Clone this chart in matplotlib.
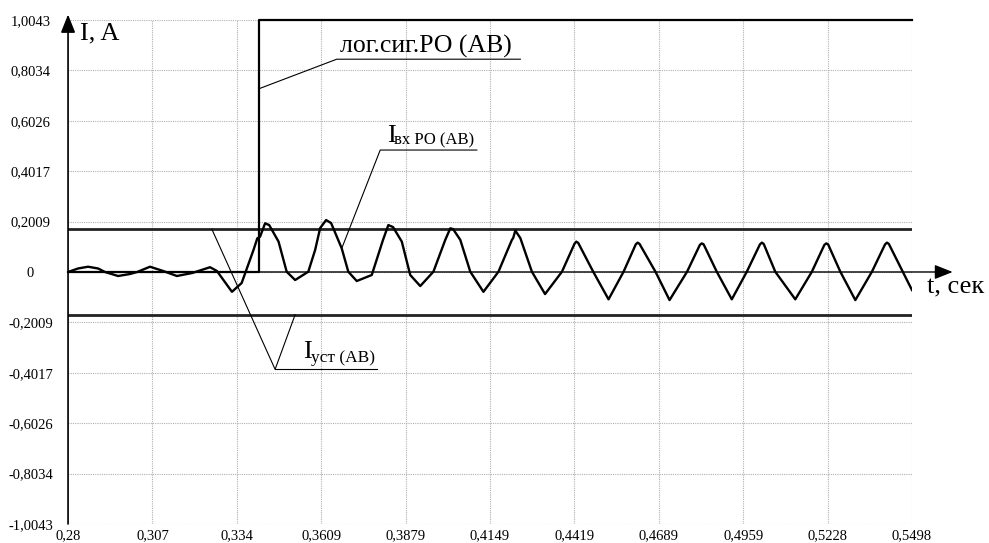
import matplotlib.pyplot as plt
from matplotlib.patches import ArrowStyle

plt.rcParams['font.family'] = ['Liberation Serif', 'DejaVu Serif']

# ---------------- data ----------------
x_ticks = [0.28, 0.307, 0.334, 0.3609, 0.3879, 0.4149, 0.4419,
           0.4689, 0.4959, 0.5228, 0.5498]
y_ticks = [-1.0043, -0.8034, -0.6026, -0.4017, -0.2009, 0,
           0.2009, 0.4017, 0.6026, 0.8034, 1.0043]

# input current of the relay (I_vx)
t_wave = [0.2800, 0.2832, 0.2864, 0.2896, 0.2918, 0.2960, 0.2998, 0.3021,
          0.3062, 0.3104, 0.3148, 0.3197, 0.3254, 0.3276, 0.3324, 0.3355,
          0.3393, 0.3405, 0.3414, 0.3430, 0.3443, 0.3473, 0.3499, 0.3526,
          0.3568, 0.3590, 0.3606, 0.3625, 0.3641, 0.3675, 0.3696, 0.3723,
          0.3771, 0.3807, 0.3824, 0.3839, 0.3867, 0.3894, 0.3926, 0.3968,
          0.4006, 0.4022, 0.4031, 0.4054, 0.4086, 0.4128, 0.4176, 0.4219,
          0.4223, 0.4230, 0.4246, 0.4283, 0.4325, 0.4379, 0.4419, 0.4425,
          0.4431, 0.4479, 0.4528, 0.4576, 0.4615, 0.4621, 0.4627, 0.4678,
          0.4723, 0.4779, 0.4820, 0.4826, 0.4832, 0.4874, 0.4922, 0.4970,
          0.5012, 0.5018, 0.5024, 0.5061, 0.5125, 0.5178, 0.5218, 0.5224,
          0.5230, 0.5269, 0.5317, 0.5370, 0.5412, 0.5418, 0.5424, 0.5498]
i_wave = [0.000, 0.014, 0.021, 0.014, 0.000, -0.016, -0.008, 0.000,
          0.021, 0.004, -0.016, -0.004, 0.019, 0.004, -0.079, -0.044,
          0.088, 0.134, 0.141, 0.194, 0.187, 0.121, 0.001, -0.032,
          0.001, 0.088, 0.175, 0.207, 0.195, 0.094, 0.001, -0.036,
          -0.012, 0.128, 0.187, 0.179, 0.121, -0.012, -0.056, 0.001,
          0.128, 0.174, 0.171, 0.128, 0.001, -0.079, 0.001, 0.128,
          0.135, 0.165, 0.135, 0.001, -0.088, 0.001, 0.112, 0.121,
          0.116, 0.001, -0.109, 0.001, 0.110, 0.117, 0.112, 0.001,
          -0.112, 0.001, 0.108, 0.114, 0.110, 0.001, -0.109, 0.001,
          0.110, 0.117, 0.112, 0.001, -0.109, 0.001, 0.108, 0.114,
          0.110, 0.001, -0.112, 0.001, 0.110, 0.117, 0.112, -0.072]

# logic output of the relay
t_logic = [0.28, 0.3411, 0.3411, 0.5498]
v_logic = [0, 0, 1.0043, 1.0043]

# pickup setting
i_set = 0.17

# ---------------- figure ----------------
fig = plt.figure(figsize=(9.89, 5.43), dpi=100)
ax = fig.add_axes([0.0688, 0.035, 0.8533, 0.9282])
ax.set_xlim(x_ticks[0], x_ticks[-1])
ax.set_ylim(y_ticks[0], y_ticks[-1])

ax.set_xticks(x_ticks)
ax.set_yticks(y_ticks)
ax.set_xticklabels([f'{v:g}'.replace('.', ',') for v in x_ticks], fontsize=10.5)
ax.set_yticklabels([f'{v:g}'.replace('.', ',') for v in y_ticks], fontsize=10.5,
                   ha='center')
ax.tick_params(axis='both', length=0)
ax.tick_params(axis='y', pad=27)
ax.tick_params(axis='x', pad=4)
for s in ax.spines.values():
    s.set_visible(False)
ax.grid(True, linestyle=(0, (1, 1)), color='#b0b0b0', lw=0.8)

# axes with arrows
head = ArrowStyle('-|>', head_length=11, head_width=4.4)
ax.annotate('', xy=(x_ticks[0], 1.026), xytext=(x_ticks[0], y_ticks[0]),
            arrowprops=dict(arrowstyle=head, lw=1.2, color='k', mutation_scale=1,
                            shrinkA=0, shrinkB=0), annotation_clip=False)
ax.annotate('', xy=(0.5628, 0), xytext=(x_ticks[0], 0),
            arrowprops=dict(arrowstyle=head, lw=1.0, color='k', mutation_scale=1,
                            shrinkA=0, shrinkB=0), annotation_clip=False)

# curves
ax.plot([x_ticks[0], x_ticks[-1]], [i_set, i_set], color='#222222', lw=2.0)
ax.plot([x_ticks[0], x_ticks[-1]], [-i_set, -i_set], color='#222222', lw=2.0)
ax.plot(t_logic, v_logic, color='k', lw=1.6, clip_on=False)
ax.plot(t_wave, i_wave, color='k', lw=1.7)

# leaders and labels
lk = dict(color='k', lw=0.8)
ax.plot([0.3414, 0.3659, 0.4246], [0.732, 0.848, 0.848], **lk)
ax.text(0.3668, 0.874, 'лог.сиг.РО (АВ)', fontsize=18.5, va='baseline')

ax.plot([0.3675, 0.3798, 0.4107], [0.094, 0.486, 0.486], **lk)
ax.text(0.3819, 0.519, 'I', fontsize=19, va='baseline')
ax.text(0.3843, 0.510, 'вх РО (АВ)', fontsize=12, va='baseline')

ax.plot([0.3260, 0.3462, 0.3526], [i_set, -0.388, -i_set], **lk)
ax.plot([0.3462, 0.3787], [-0.388, -0.388], **lk)
ax.text(0.3553, -0.344, 'I', fontsize=19, va='baseline')
ax.text(0.3577, -0.357, 'уст (АВ)', fontsize=12.5, va='baseline')

ax.text(0.2838, 0.927, 'I, A', fontsize=19, va='baseline')
ax.text(0.5546, -0.085, 't, сек', fontsize=19, va='baseline')

fig.savefig('out.png', dpi=100)
